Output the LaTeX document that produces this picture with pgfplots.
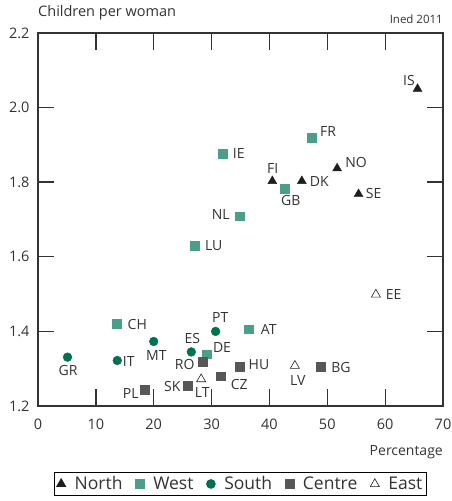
\documentclass[border=0pt]{standalone}
\usepackage{pgfplots}
\pgfplotsset{compat=1.18}
\usepackage{fontspec}
\setmainfont{Open Sans}
\definecolor{northc}{HTML}{1E1E1E}
\definecolor{westc}{HTML}{4A9E8A}
\definecolor{southc}{HTML}{00704E}
\definecolor{centrec}{HTML}{575757}
\definecolor{txtc}{HTML}{333333}
\begin{document}
\begin{tikzpicture}
\begin{axis}[
  at={(0pt,0pt)}, anchor=origin,
  scale only axis, width=405pt, height=373pt,
  xmin=0, xmax=70, ymin=1.2, ymax=2.2,
  xtick={0,10,...,70}, ytick={1.2,1.4,...,2.2},
  yticklabel style={/pgf/number format/fixed, /pgf/number format/fixed zerofill, /pgf/number format/precision=1, xshift=-5pt},
  /pgf/number format/assume math mode=true,
  major tick length=0pt,
  axis line style={line width=1.1pt, draw=txtc},
  ticklabel style={font=\fontsize{14.5}{16}\selectfont, text=txtc},
  xticklabel style={yshift=-9pt},
  clip=false,
  legend style={at={(0.5,-0.209)}, anchor=center, draw=black, line width=0.8pt,
    font=\fontsize{17.5}{20}\selectfont, text=txtc, inner xsep=2pt, inner ysep=2pt,
    /tikz/every odd column/.append style={column sep=7pt},
    /tikz/every even column/.append style={column sep=11pt}},
  legend columns=5,
]
\addplot[only marks, mark=triangle*, mark size=5.2pt, color=northc] coordinates {
(65.6,2.05) (40.5,1.803) (45.6,1.803) (51.7,1.837) (55.4,1.768)};
\addlegendentry{North}
\addplot[only marks, mark=square*, mark size=4.4pt, color=westc] coordinates {
(47.3,1.92) (31.9,1.876) (42.7,1.783) (34.8,1.709) (27.1,1.629) (13.6,1.42) (36.4,1.406) (29.2,1.339)};
\addlegendentry{West}
\addplot[only marks, mark=*, mark size=4.4pt, color=southc] coordinates {
(30.7,1.40) (20.0,1.373) (5.1,1.331) (13.7,1.322) (26.5,1.345)};
\addlegendentry{South}
\addplot[only marks, mark=square*, mark size=4.4pt, color=centrec] coordinates {
(28.5,1.318) (34.9,1.305) (48.8,1.305) (31.6,1.28) (25.9,1.254) (18.4,1.243)};
\addlegendentry{Centre}
\addplot[only marks, mark=triangle, mark size=5.2pt, color=northc, mark options={line width=0.6pt}] coordinates {
(58.4,1.499) (44.4,1.308) (28.2,1.272)};
\addlegendentry{East}
\end{axis}
\begin{scope}[x=1pt,y=1pt,every node/.style={font=\fontsize{14}{16}\selectfont, text=txtc, inner sep=0pt}]
% tick marks
\fill[txtc] (57.2,0) rectangle (58.5,17);
\fill[txtc] (115.1,0) rectangle (116.4,17);
\fill[txtc] (172.9,0) rectangle (174.2,17);
\fill[txtc] (230.8,0) rectangle (232.1,17);
\fill[txtc] (288.6,0) rectangle (289.9,17);
\fill[txtc] (346.5,0) rectangle (347.8,17);
\fill[txtc] (57.2,373) rectangle (58.5,356);
\fill[txtc] (115.1,373) rectangle (116.4,356);
\fill[txtc] (172.9,373) rectangle (174.2,356);
\fill[txtc] (230.8,373) rectangle (232.1,356);
\fill[txtc] (288.6,373) rectangle (289.9,356);
\fill[txtc] (346.5,373) rectangle (347.8,356);
\fill[txtc] (0,74) rectangle (16,75.3);
\fill[txtc] (0,148.6) rectangle (16,149.9);
\fill[txtc] (0,223.2) rectangle (16,224.5);
\fill[txtc] (0,297.8) rectangle (16,299.1);
\fill[txtc] (405,74) rectangle (389,75.3);
\fill[txtc] (405,148.6) rectangle (389,149.9);
\fill[txtc] (405,223.2) rectangle (389,224.5);
\fill[txtc] (405,297.8) rectangle (389,299.1);
\node at (409-38,406-81) {IS};
\node at (328-38,406-132) {FR};
\node at (238.7-38,406-153.3) {IE};
\node at (272.7-38,406-168.7) {FI};
\node at (319.3-38,406-181.7) {DK};
\node at (356-38,406-162.7) {NO};
\node at (373.7-38,406-193.3) {SE};
\node at (290.7-38,406-200.3) {GB};
\node at (220.7-38,406-214.3) {NL};
\node at (213.7-38,406-246) {LU};
\node at (393.7-38,406-294.3) {EE};
\node at (137.3-38,406-324) {CH};
\node at (268.7-38,406-329) {AT};
\node at (220.3-38,406-317.7) {PT};
\node at (156.3-38,406-355.7) {MT};
\node at (68-38,406-370) {GR};
\node at (128.7-38,406-361.3) {IT};
\node at (192.3-38,406-338.3) {ES};
\node at (222-38,406-347.3) {DE};
\node at (184.7-38,406-364) {RO};
\node at (259-38,406-365) {HU};
\node at (341-38,406-367.3) {BG};
\node at (297.7-38,406-381) {LV};
\node at (239.3-38,406-384.3) {CZ};
\node at (202.3-38,406-392.7) {LT};
\node at (172.3-38,406-386) {SK};
\node at (130.7-38,406-393.3) {PL};
\node[anchor=west, font=\fontsize{14.5}{16}\selectfont] at (0,393) {Children per woman};
\node[anchor=east, font=\fontsize{11.5}{13}\selectfont] at (405,387) {Ined 2011};
\node[anchor=east] at (405,-46) {Percentage};
\pgfresetboundingbox
\useasboundingbox (-38,-95) rectangle (413,406);
\end{scope}
\end{tikzpicture}
\end{document}
